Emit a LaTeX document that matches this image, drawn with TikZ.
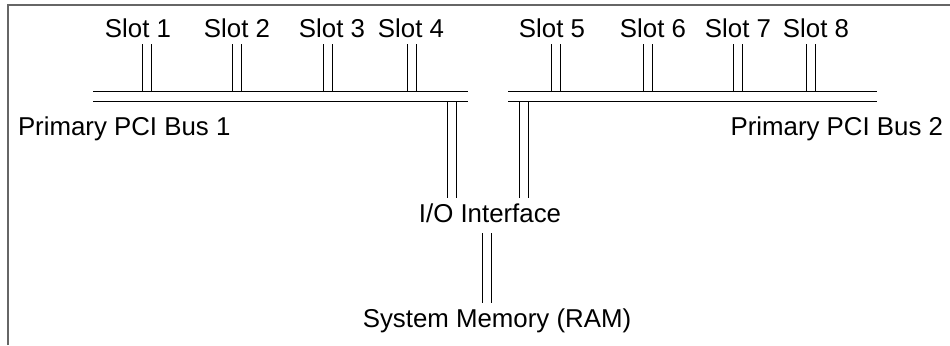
\documentclass[tikz,border=0pt]{standalone}
\usepackage{fontspec}
\setmainfont{Liberation Sans}
\usepackage{tikz}
\usetikzlibrary{calc}

\begin{document}
\begin{tikzpicture}[x=0.02cm,y=-0.02cm,
        lbl/.style={font=\fontsize{14.7}{17}\selectfont,text height=0.39cm,text depth=0.13cm,inner xsep=0pt,inner ysep=0.09cm,outer sep=0pt},
        slotlbl/.style={lbl,inner ysep=0pt},
        link/.style={draw=black,line width=0.02cm,double=white,double distance=0.16cm},
        bus/.style={draw=black,line width=0.02cm,double=white,double distance=0.18cm}]
        \useasboundingbox (0,0) rectangle (950,345);
        \draw[line width=0.04cm,draw=black!60] (8,345) -- (8,5) -- (950,5);

        \node[slotlbl,anchor=base] (s1) at (138,37) {Slot 1};
        \node[slotlbl,anchor=base] (s2) at (237,37) {Slot 2};
        \node[slotlbl,anchor=base] (s3) at (332,37) {Slot 3};
        \node[slotlbl,anchor=base] (s4) at (411,37) {Slot 4};
        \node[slotlbl,anchor=base] (s5) at (552,37) {Slot 5};
        \node[slotlbl,anchor=base] (s6) at (653,37) {Slot 6};
        \node[slotlbl,anchor=base] (s7) at (738,37) {Slot 7};
        \node[slotlbl,anchor=base] (s8) at (816,37) {Slot 8};

        \coordinate (b1) at (147,91.5);
        \coordinate (b2) at (237,91.5);
        \coordinate (b3) at (328,91.5);
        \coordinate (b4) at (412,91.5);
        \coordinate (b5) at (556,91.5);
        \coordinate (b6) at (648,91.5);
        \coordinate (b7) at (738,91.5);
        \coordinate (b8) at (811,91.5);

        \node[lbl,anchor=base west] (pci1) at (18,135) {Primary PCI Bus 1};
        \node[lbl,anchor=base east] (pci2) at (943,135) {Primary PCI Bus 2};
        \node[lbl,anchor=base] (io) at (490,222) {I/O Interface};
        \node[lbl,anchor=base] (mem) at (497,327) {System Memory (RAM)};

        \coordinate (u1) at (452,101.5);
        \coordinate (u2) at (524,101.5);

        % slot stubs
        \draw[link] (b1) -- (b1 |- s1.south);
        \draw[link] (b2) -- (b2 |- s2.south);
        \draw[link] (b3) -- (b3 |- s3.south);
        \draw[link] (b4) -- (b4 |- s4.south);
        \draw[link] (b5) -- (b5 |- s5.south);
        \draw[link] (b6) -- (b6 |- s6.south);
        \draw[link] (b7) -- (b7 |- s7.south);
        \draw[link] (b8) -- (b8 |- s8.south);

        % buses to the interface, interface to memory
        \draw[link] (u1) -- (u1 |- io.north);
        \draw[link] (u2) -- (u2 |- io.north);
        \draw[link] ([xshift=-0.06cm]io.south) -- ([xshift=-0.06cm]io.south |- mem.north);

        \coordinate (bus1w) at (93,96.5);
        \coordinate (bus1e) at (468,96.5);
        \coordinate (bus2w) at (508,96.5);
        \coordinate (bus2e) at (877,96.5);
        \draw[bus] (bus1w) -- (bus1e);
        \draw[bus] (bus2w) -- (bus2e);
    \end{tikzpicture}
\end{document}
